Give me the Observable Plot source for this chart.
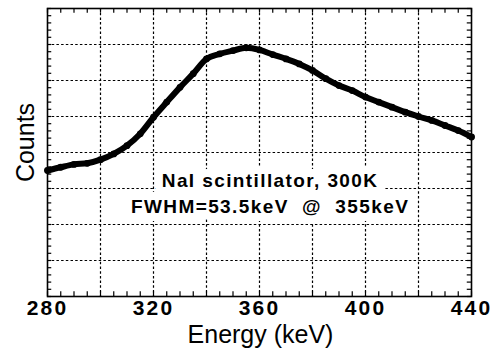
<!DOCTYPE html>
<html>
<head>
<meta charset="utf-8">
<script src="https://cdn.jsdelivr.net/npm/d3@7"></script>
<script src="https://cdn.jsdelivr.net/npm/@observablehq/plot@0.6"></script>
<style>
  html, body { margin: 0; padding: 0; background: white; }
</style>
</head>
<body>
<div id="chart"></div>
<script>
// Energy (keV) sample positions and normalized counts
const energy = [280,285,290,295,300,305,310,315,320,325,330,335,340,345,350,355,360,
                365,370,375,380,385,390,395,400,405,410,415,420,425,430,435,440];
const counts = [3.50,3.59,3.67,3.70,3.80,3.96,4.19,4.52,4.98,5.40,5.81,6.19,6.60,6.74,6.83,6.91,6.85,
                6.72,6.60,6.46,6.28,6.05,5.86,5.72,5.54,5.40,5.26,5.12,5.00,4.89,4.75,4.61,4.43];

const xTickLabels = [280, 320, 360, 400, 440];
const xGrid = [300, 320, 340, 360, 380, 400, 420];
const yGrid = [1, 2, 3, 4, 5, 6, 7];
const xTitle = "Energy (keV)";
const yTitle = "Counts";
const note1 = "NaI scintillator, 300K";
const note2 = "FWHM=53.5keV  @  355keV";

const data = energy.map((e, i) => ({energy: e, counts: counts[i]}));
const xMinor = d3.range(280, 440.1, 5);
const yMinor = d3.range(0, 8.01, 0.2);
const noteX = 364;

const annotOpts = {lineAnchor: "bottom", textAnchor: "middle", fontSize: 19, fontWeight: "bold"};

const chart = Plot.plot({
  width: 493,
  height: 350,
  marginLeft: 47,
  marginRight: 22,
  marginTop: 8,
  marginBottom: 54,
  x: {domain: [280, 440], axis: null},
  y: {domain: [0, 8], axis: null},
  style: {fontFamily: "'Liberation Sans', Arial, Helvetica, sans-serif", background: "white", color: "black"},
  marks: [
    Plot.ruleX(xGrid, {stroke: "black", strokeWidth: 1.2, strokeDasharray: "2.5,2.2"}),
    Plot.ruleY(yGrid, {stroke: "black", strokeWidth: 1.2, strokeDasharray: "2.5,2.2"}),
    // inward minor ticks
    Plot.ruleX(xMinor, {y1: 0, y2: 0.13, stroke: "black", strokeWidth: 1.2}),
    Plot.ruleX(xMinor, {y1: 8, y2: 7.87, stroke: "black", strokeWidth: 1.2}),
    Plot.ruleY(yMinor, {x1: 280, x2: 281.6, stroke: "black", strokeWidth: 1.2}),
    Plot.ruleY(yMinor, {x1: 440, x2: 438.4, stroke: "black", strokeWidth: 1.2}),
    // annotation white box (halo)
    Plot.text([note1], {...annotOpts, x: () => noteX, y: () => 3.03, text: d => d,
      fill: "white", stroke: "white", strokeWidth: 16, strokeLinejoin: "round"}),
    Plot.text([note2], {...annotOpts, x: () => noteX, y: () => 2.33, text: d => d,
      fill: "white", stroke: "white", strokeWidth: 16, strokeLinejoin: "round"}),
    // data band
    Plot.line(data, {x: "energy", y: "counts", stroke: "black", strokeWidth: 6, curve: "monotone-x"}),
    Plot.dot(data, {x: "energy", y: "counts", r: 3.4, fill: "black"}),
    // annotation text
    Plot.text([note1], {...annotOpts, x: () => noteX, y: () => 3.03, text: d => d, fill: "black"}),
    Plot.text([note2], {...annotOpts, x: () => noteX, y: () => 2.33, text: d => d, fill: "black"}),
    // tick labels
    Plot.text(xTickLabels, {x: d => d, frameAnchor: "bottom", text: d => String(d), lineAnchor: "top", dy: 4,
      fontSize: 21, fontWeight: "bold", fill: "black"}),
    // axis titles
    Plot.text([xTitle], {frameAnchor: "bottom", text: d => d, textAnchor: "middle", lineAnchor: "bottom", dy: 46, dx: 1,
      fontSize: 25, fill: "black"}),
    Plot.text([yTitle], {frameAnchor: "left", text: d => d, textAnchor: "middle", rotate: -90, lineAnchor: "bottom", dx: -14, dy: -10,
      fontSize: 25, fill: "black"}),
    Plot.frame({stroke: "black", strokeWidth: 1.6})
  ]
});
document.getElementById("chart").appendChild(chart);

// widen the letter spacing of the annotation and tick labels to match the reference
d3.select(chart).selectAll("text").each(function() {
  const t = this.textContent;
  if (t === note1 || t === note2) this.setAttribute("letter-spacing", "1.4");
  else if (xTickLabels.map(String).includes(t)) this.setAttribute("letter-spacing", "2.2");
});
</script>
</body>
</html>
